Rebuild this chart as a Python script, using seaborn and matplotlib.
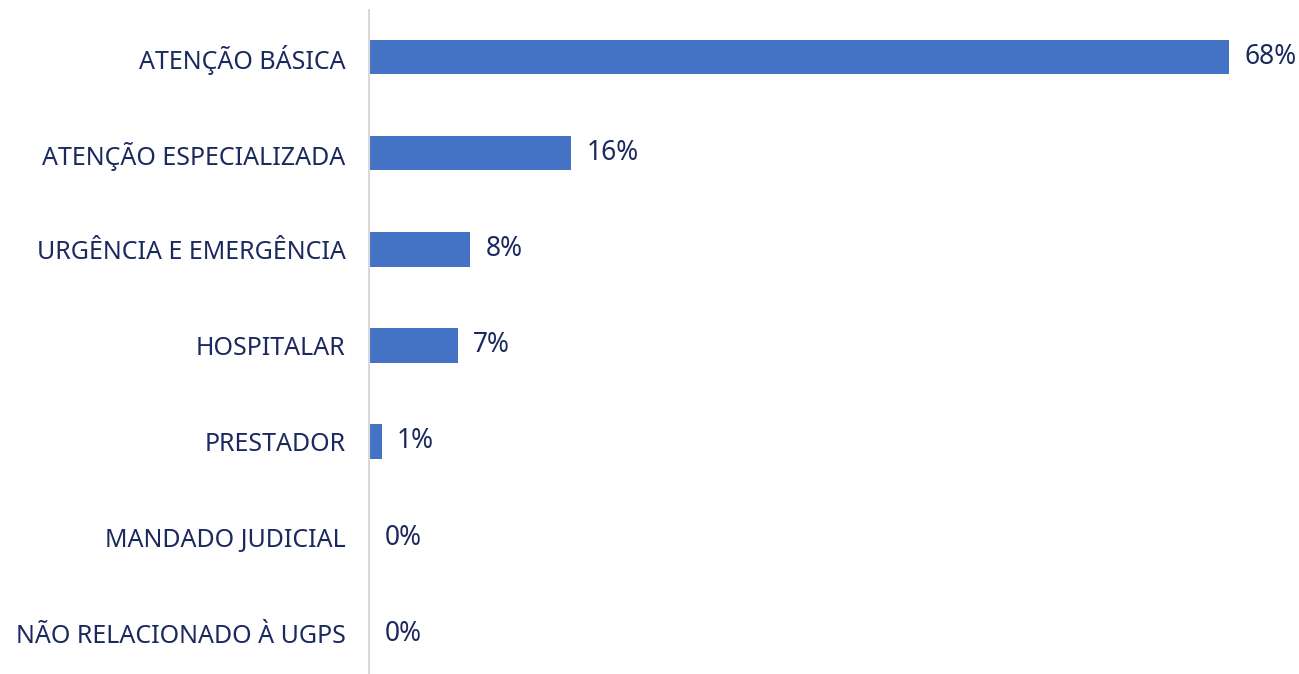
import matplotlib
matplotlib.use("Agg")
import matplotlib.pyplot as plt
import pandas as pd
import seaborn as sns

categories = [
    "ATENÇÃO BÁSICA",
    "ATENÇÃO ESPECIALIZADA",
    "URGÊNCIA E EMERGÊNCIA",
    "HOSPITALAR",
    "PRESTADOR",
    "MANDADO JUDICIAL",
    "NÃO RELACIONADO À UGPS",
]
percentages = [68, 16, 8, 7, 1, 0, 0]

df = pd.DataFrame({"area": categories, "pct": percentages})

sns.set_style("white")
plt.rcParams["font.family"] = ["Noto Sans", "DejaVu Sans"]

text_color = "#1B2A5E"
bar_color = "#4472C4"

fig = plt.figure(figsize=(12.99, 6.74), dpi=100)
ax = fig.add_axes([369 / 1299, 0, 930 / 1299, 664 / 674])

sns.barplot(data=df, x="pct", y="area", color=bar_color, width=0.36,
            saturation=1, linewidth=0, ax=ax)

labels = ax.bar_label(ax.containers[0], labels=[f"{v}%" for v in percentages],
                      padding=11, fontsize=19, color=text_color)
for t in labels:
    t.set_va("center")
    t.set_y(t.get_position()[1])

ax.set_xlim(0, 73.5)
ax.set_ylim(6.42, -0.49)
ax.set_xlabel("")
ax.set_ylabel("")
ax.set_xticks([])
ax.tick_params(axis="y", length=0, pad=17, labelsize=18, labelcolor=text_color)

for s in ["top", "right", "bottom"]:
    ax.spines[s].set_visible(False)
ax.spines["left"].set_color("#D9D9D9")
ax.spines["left"].set_linewidth(1.5)

fig.savefig("out.png", dpi=100)
